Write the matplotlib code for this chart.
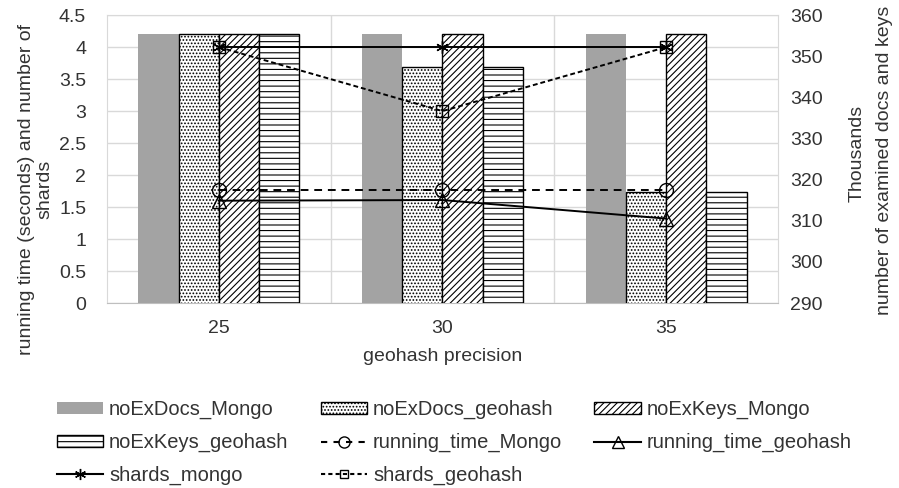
import numpy as np
import matplotlib
matplotlib.use("Agg")
import matplotlib.pyplot as plt
from matplotlib.patches import Patch
from matplotlib.lines import Line2D

plt.rcParams['font.family'] = ['Liberation Sans', 'DejaVu Sans']
plt.rcParams['font.size'] = 14
plt.rcParams['hatch.linewidth'] = 0.8

# geohash precision levels
precision = ['25', '30', '35']

# examined docs / keys (thousands)
noExDocs_Mongo = [355.5, 355.5, 355.5]
noExDocs_geohash = [355.5, 347.4, 317.0]
noExKeys_Mongo = [355.5, 355.5, 355.5]
noExKeys_geohash = [355.5, 347.4, 317.0]

# running time (s) and shard counts
running_time_Mongo = [1.77, 1.77, 1.77]
running_time_geohash = [1.60, 1.61, 1.32]
shards_mongo = [4, 4, 4]
shards_geohash = [4, 3, 4]

x = np.arange(len(precision))
w = 0.18
txt = '#333333'

fig = plt.figure(figsize=(8.99, 4.88), dpi=100)
ax = fig.add_axes([0.119, 0.379, 0.7464, 0.590])

# base axis: left scale + gridlines
ax.set_ylim(0, 4.5)
ax.set_yticks(np.arange(0, 4.51, 0.5))
ax.set_yticklabels(['0', '0.5', '1', '1.5', '2', '2.5', '3', '3.5', '4', '4.5'])
ax.set_xlim(-0.5, 2.5)
ax.set_xticks(x)
ax.set_xticklabels(precision)
ax.set_xticks([0.5, 1.5], minor=True)
ax.grid(True, axis='y', color='#d9d9d9', linewidth=1)
ax.grid(True, axis='x', which='minor', color='#d9d9d9', linewidth=1)
ax.tick_params(axis='both', which='both', length=0, colors=txt, labelsize=14)
ax.tick_params(axis='x', pad=12)
ax.tick_params(axis='y', pad=15)
for s in ['left', 'right', 'top']:
    ax.spines[s].set_color('#d9d9d9')
ax.spines['bottom'].set_color('#bfbfbf')
ax.set_xlabel('geohash precision', color=txt, labelpad=8)
fig.text(0.040, 0.611, 'running time (seconds) and number of\nshards', rotation=90,
         ha='center', va='center', color=txt, fontsize=14, linespacing=1.1,
         multialignment='center')

# bars on the right (thousands) scale
axb = ax.twinx()
axb.bar(x - 1.5 * w, noExDocs_Mongo, w, color='#a3a3a3', linewidth=0)
axb.bar(x - 0.5 * w, noExDocs_geohash, w, color='white', edgecolor='black',
        hatch='.....', linewidth=1)
axb.bar(x + 0.5 * w, noExKeys_Mongo, w, color='white', edgecolor='black',
        hatch='/////', linewidth=1)
axb.bar(x + 1.5 * w, noExKeys_geohash, w, color='white', edgecolor='black',
        hatch='---', linewidth=1)
axb.set_ylim(290, 360)
axb.set_yticks(np.arange(290, 361, 10))
axb.tick_params(axis='y', length=0, colors=txt, labelsize=14, pad=9)
for s in axb.spines.values():
    s.set_visible(False)
fig.text(0.953, 0.686, 'Thousands', rotation=90, ha='center', va='center',
         color=txt, fontsize=14)
fig.text(0.984, 0.672, 'number of examined docs and keys', rotation=90,
         ha='center', va='center', color=txt, fontsize=14)

# lines on top, sharing the left scale
axl = ax.twinx()
axl.set_ylim(0, 4.5)
axl.set_yticks([])
for s in axl.spines.values():
    s.set_visible(False)
axl.plot(x, running_time_Mongo, color='black', linestyle=(0, (4, 3)), linewidth=1.4,
         marker='o', markersize=10, markerfacecolor='none', markeredgecolor='black')
axl.plot(x, running_time_geohash, color='black', linestyle='-', linewidth=1.4,
         marker='^', markersize=10, markerfacecolor='none', markeredgecolor='black')
axl.plot(x, shards_mongo, color='black', linestyle='-', linewidth=1.4,
         marker=(6, 2, 0), markersize=9, markeredgecolor='black')
axl.plot(x, shards_geohash, color='black', linestyle=(0, (2.5, 1.5)), linewidth=1.4,
         marker='s', markersize=8, markerfacecolor='none', markeredgecolor='black')

h_docs_m = Patch(facecolor='#a3a3a3', linewidth=0)
h_docs_g = Patch(facecolor='white', edgecolor='black', hatch='.....')
h_keys_m = Patch(facecolor='white', edgecolor='black', hatch='/////')
h_keys_g = Patch(facecolor='white', edgecolor='black', hatch='---')
h_rt_m = Line2D([], [], color='black', linestyle=(0, (3, 3)), marker='o',
                markerfacecolor='none', markersize=8)
h_rt_g = Line2D([], [], color='black', linestyle='-', marker='^',
                markerfacecolor='none', markersize=8)
h_sh_m = Line2D([], [], color='black', linestyle='-', marker=(6, 2, 0), markersize=8)
h_sh_g = Line2D([], [], color='black', linestyle=(0, (2, 1.5)), marker='s',
                markerfacecolor='none', markersize=6)

handles = [h_docs_m, h_keys_g, h_sh_m, h_docs_g, h_rt_m, h_sh_g, h_keys_m, h_rt_g]
labels = ['noExDocs_Mongo', 'noExKeys_geohash', 'shards_mongo',
          'noExDocs_geohash', 'running_time_Mongo', 'shards_geohash',
          'noExKeys_Mongo', 'running_time_geohash']
fig.legend(handles, labels, ncol=3, loc='upper left', bbox_to_anchor=(0.063, 0.180),
           frameon=False, handlelength=2.3, handleheight=0.55, handletextpad=0.3,
           columnspacing=1.6, labelspacing=0.68, borderaxespad=0, borderpad=0,
           fontsize=14.5, labelcolor=txt)

fig.savefig('out.png', dpi=100)
